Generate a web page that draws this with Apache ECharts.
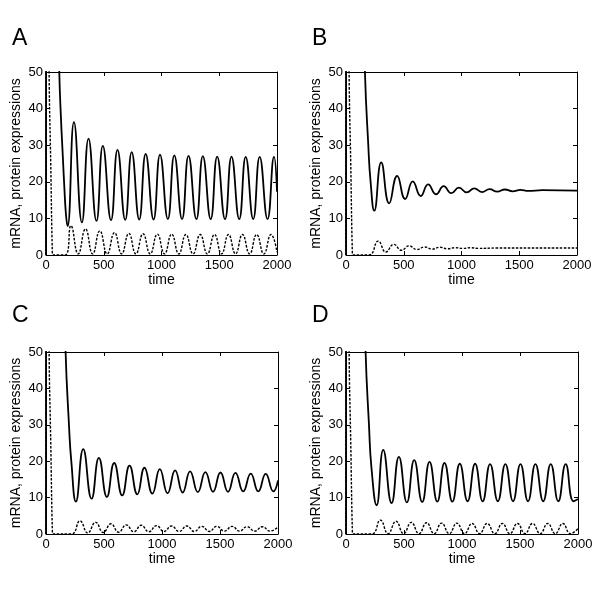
<!DOCTYPE html>
<html>
<head>
<meta charset="utf-8">
<script src="https://cdn.jsdelivr.net/npm/echarts@6/dist/echarts.min.js"></script>
<style>html,body{margin:0;padding:0;background:#fff}#c{width:600px;height:600px}</style>
</head>
<body>
<div id="c"></div>
<script>
// ---- data (time, value) ----
var panelLabels = ['A', 'B', 'C', 'D'];
var xTicks = [0, 500, 1000, 1500, 2000];
var yTicks = [0, 10, 20, 30, 40, 50];
var xName = 'time';
var yName = 'mRNA, protein expressions';

var aProtein = [[0,0],[4,200],[90,200],[105,70],[115,50],[130,37],[144,28],[158,19],[173,11],[187,7.9],
  [242,36.3],[311,8.9],[368,31.8],[437,9.3],[492,29.8],[563,9.5],[619,28.7],[686,9.6],[742,28.1],[807,9.7],
  [863,27.6],[931,9.7],[987,27.4],[1055,9.8],[1111,27.2],[1178,9.8],[1234,27.1],[1302,9.8],[1358,27.0],
  [1426,9.8],[1482,26.9],[1550,9.8],[1606,26.9],[1673,9.8],[1729,26.8],[1794,9.8],[1850,26.8],[1918,9.8],
  [1974,26.8],[2000,17.3]];
var aMrna = [[0,0],[3,200],[20,100],[27,50],[41,25],[55,0.5],[60,0],[165,0],[216,8.0],[279,0.3],[342,7.1],
  [404,0.3],[466,6.6],[530,0.3],[593,6.1],[655,0.3],[717,5.9],[778,0.3],[840,5.8],[902,0.3],[964,5.7],
  [1026,0.3],[1088,5.7],[1150,0.3],[1211,5.6],[1273,0.3],[1335,5.6],[1397,0.3],[1459,5.6],[1520,0.3],
  [1580,5.6],[1641,0.3],[1701,5.6],[1763,0.3],[1824,5.6],[1886,0.3],[1948,5.6],[2000,0.8]];

var bProtein = [[0,0],[4,200],[125,200],[150,75],[164,50],[193,30],[213,20],[245,12.1],
  [305,25.3],[374,14.1],[443,21.6],[512,15.3],[578,20.1],[647,16.1],[711,19.3],[780,16.6],[846,18.8],
  [912,16.9],[978,18.4],[1045,17.1],[1111,18.2],[1177,17.2],[1243,18.0],[1310,17.3],[1376,17.9],
  [1443,17.4],[1510,17.8],[1577,17.5],[1700,17.7],[2000,17.6]];
var bMrna = [[0,0],[3,200],[20,100],[27,50],[41,25],[55,0.5],[60,0],[200,0],[279,3.8],[345,0.8],
  [414,2.9],[480,1.3],[547,2.5],[613,1.5],[680,2.2],[746,1.6],[812,2.1],[878,1.7],[945,2.0],[1011,1.8],
  [1078,2.0],[1144,1.8],[1300,1.9],[2000,1.9]];

var cProtein = [[0,0],[4,200],[130,200],[155,75],[169,50],[198,30],[218,20],[258,8.9],
  [321,23.3],[393,9.7],[456,20.9],[525,10.2],[588,19.5],[657,10.6],[720,18.8],[787,10.9],[849,18.2],
  [917,11.1],[981,17.8],[1048,11.2],[1113,17.5],[1178,11.4],[1242,17.2],[1309,11.5],[1374,17.0],
  [1440,11.6],[1504,16.9],[1569,11.6],[1633,16.8],[1700,11.7],[1765,16.6],[1830,11.7],[1894,16.5],
  [1960,11.7],[2000,14.7]];
var cMrna = [[0,0],[3,200],[20,100],[27,50],[41,25],[55,0.5],[60,0],[220,0],[293,3.6],[360,0.3],
  [428,3.2],[494,0.4],[560,2.8],[626,0.5],[692,2.5],[757,0.6],[821,2.4],[887,0.6],[953,2.3],[1018,0.7],
  [1082,2.2],[1148,0.7],[1214,2.2],[1279,0.7],[1343,2.1],[1408,0.7],[1472,2.1],[1538,0.8],[1604,2.1],
  [1669,0.8],[1733,2.0],[1799,0.8],[1865,2.0],[1932,0.8],[2000,2.0]];

var dProtein = [[0,0],[4,200],[130,200],[155,75],[169,50],[198,30],[220,18],[264,7.9],
  [321,23.1],[393,8.5],[456,21.2],[525,8.7],[588,20.3],[657,8.8],[720,19.8],[787,8.9],[849,19.5],
  [917,8.9],[981,19.3],[1048,9.0],[1113,19.3],[1178,9.0],[1242,19.2],[1309,9.0],[1374,19.2],
  [1440,9.0],[1504,19.2],[1569,9.0],[1633,19.2],[1700,9.0],[1765,19.2],[1830,9.0],[1894,19.2],
  [1962,9.0],[2000,9.6]];
var dMrna = [[0,0],[3,200],[20,100],[27,50],[41,25],[55,0.5],[60,0],[222,0],[296,3.8],[363,0.1],
  [431,3.5],[497,0.1],[563,3.2],[629,0.1],[695,3.1],[760,0.1],[824,3.0],[890,0.1],[956,3.0],[1022,0.1],
  [1087,2.9],[1152,0.1],[1217,2.9],[1283,0.1],[1348,2.9],[1413,0.1],[1478,2.9],[1543,0.1],[1608,2.9],
  [1674,0.1],[1739,2.9],[1804,0.1],[1869,2.9],[1935,0.1],[2000,1.5]];

var proteinSets = [aProtein, bProtein, cProtein, dProtein];
var mrnaSets = [aMrna, bMrna, cMrna, dMrna];

// ---- layout ----
var FONT = '"Liberation Sans", Arial, Helvetica, sans-serif';
var grids = [
  {left: 46, top: 72, width: 231, height: 183},
  {left: 346, top: 72, width: 231, height: 183},
  {left: 46, top: 352, width: 232, height: 182},
  {left: 346, top: 352, width: 232, height: 182}
];
var letterPos = [[12, 27], [312, 27], [12, 304], [312, 304]];

var plain = function (v) { return String(v); };
var xAxes = [], yAxes = [], series = [], graphics = [];
var lineCol = '#000';
grids.forEach(function (g, i) {
  var xMin = xTicks[0], xMax = xTicks[xTicks.length - 1];
  var yMin = yTicks[0], yMax = yTicks[yTicks.length - 1];
  var common = {
    type: 'value', gridIndex: i,
    axisLine: {show: true, onZero: false, lineStyle: {color: lineCol, width: 1}},
    axisTick: {show: true, inside: true, length: 4, lineStyle: {color: lineCol}},
    splitLine: {show: false}
  };
  xAxes.push(Object.assign({}, common, {
    position: 'bottom', min: xMin, max: xMax, interval: xTicks[1] - xTicks[0],
    axisLabel: {color: '#000', fontSize: 13, fontFamily: FONT, margin: 4, formatter: plain},
    name: xName, nameLocation: 'middle', nameGap: 17,
    nameTextStyle: {color: '#000', fontSize: 14, fontFamily: FONT}
  }));
  xAxes.push(Object.assign({}, common, {
    position: 'top', min: xMin, max: xMax, interval: xTicks[1] - xTicks[0],
    axisLabel: {show: false}
  }));
  yAxes.push(Object.assign({}, common, {
    position: 'left', min: yMin, max: yMax, interval: yTicks[1] - yTicks[0],
    axisLabel: {color: '#000', fontSize: 13, fontFamily: FONT, margin: 3, formatter: plain},
    name: yName, nameLocation: 'middle', nameGap: 23,
    nameTextStyle: {color: '#000', fontSize: 14, fontFamily: FONT}
  }));
  yAxes.push(Object.assign({}, common, {
    position: 'right', min: yMin, max: yMax, interval: yTicks[1] - yTicks[0],
    axisLabel: {show: false}
  }));
  series.push({
    type: 'line', xAxisIndex: 2 * i, yAxisIndex: 2 * i, data: proteinSets[i],
    showSymbol: false, smooth: 0.5, clip: true, animation: false,
    lineStyle: {color: '#000', width: 1.8}
  });
  series.push({
    type: 'line', xAxisIndex: 2 * i, yAxisIndex: 2 * i, data: mrnaSets[i],
    showSymbol: false, smooth: 0.5, clip: true, animation: false,
    lineStyle: {color: '#000', width: 1.4, type: [2.5, 1.5]}
  });
  graphics.push({
    type: 'text', left: letterPos[i][0], top: letterPos[i][1],
    style: {text: panelLabels[i], font: '23px ' + FONT, fill: '#000'}
  });
});

var chart = echarts.init(document.getElementById('c'), null, {renderer: 'canvas'});
chart.setOption({
  backgroundColor: '#fff',
  animation: false,
  grid: grids,
  xAxis: xAxes,
  yAxis: yAxes,
  series: series,
  graphic: graphics
});
</script>
</body>
</html>
